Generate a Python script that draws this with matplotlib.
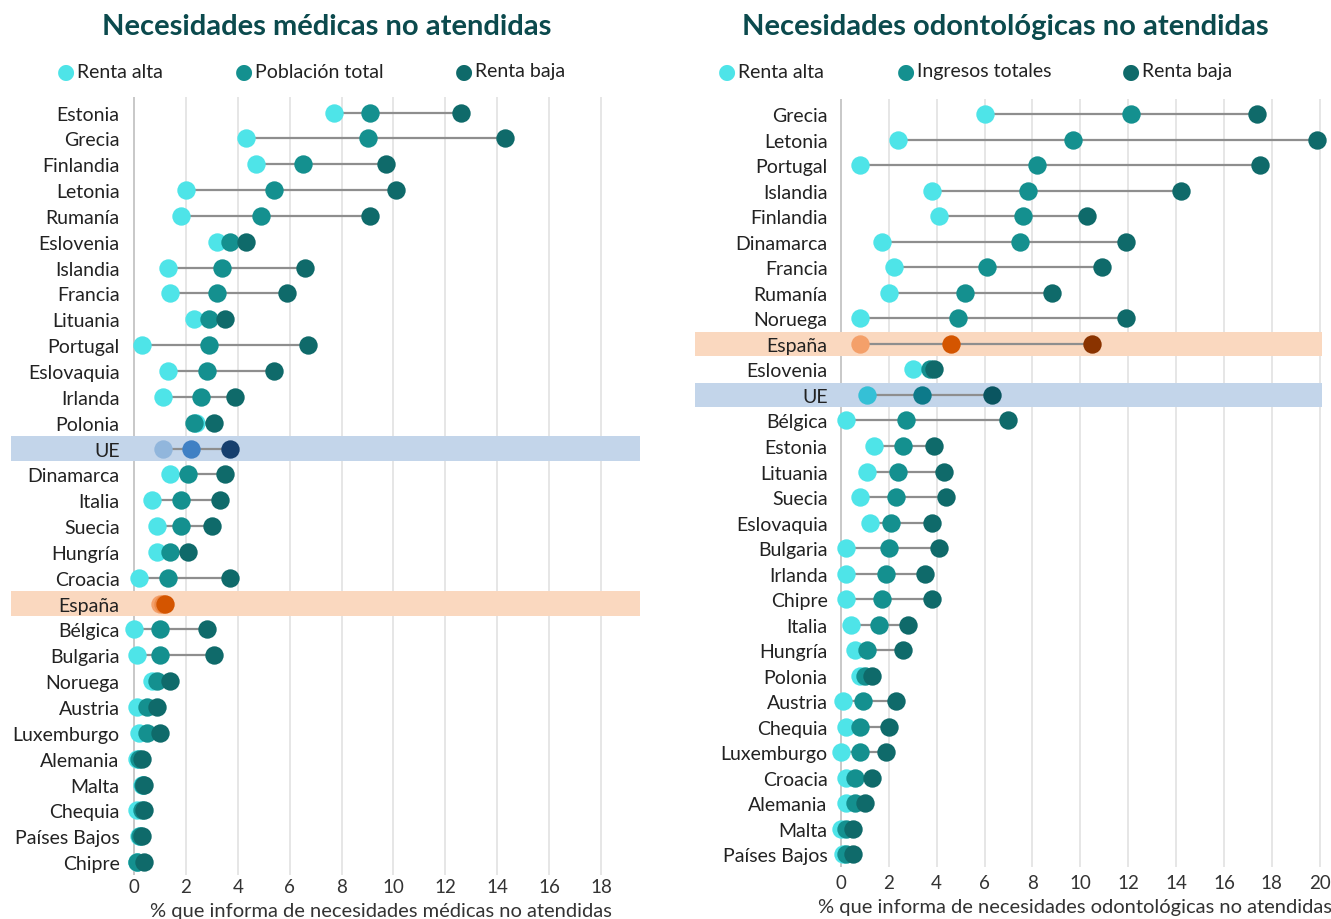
import numpy as np
import matplotlib.pyplot as plt
from matplotlib.transforms import blended_transform_factory

plt.rcParams['font.family'] = ['Lato', 'DejaVu Sans']

# Necesidades médicas no atendidas (%)
paises_med = ['Estonia', 'Grecia', 'Finlandia', 'Letonia', 'Rumanía', 'Eslovenia',
              'Islandia', 'Francia', 'Lituania', 'Portugal', 'Eslovaquia', 'Irlanda',
              'Polonia', 'UE', 'Dinamarca', 'Italia', 'Suecia', 'Hungría', 'Croacia',
              'España', 'Bélgica', 'Bulgaria', 'Noruega', 'Austria', 'Luxemburgo',
              'Alemania', 'Malta', 'Chequia', 'Países Bajos', 'Chipre']
med_alta = [7.7, 4.3, 4.7, 2.0, 1.8, 3.2, 1.3, 1.4, 2.3, 0.3, 1.3, 1.1, 2.4, 1.1,
            1.4, 0.7, 0.9, 0.9, 0.2, 1.0, 0.0, 0.1, 0.7, 0.1, 0.2, 0.1, 0.3, 0.1, 0.2, 0.1]
med_total = [9.1, 9.0, 6.5, 5.4, 4.9, 3.7, 3.4, 3.2, 2.9, 2.9, 2.8, 2.6, 2.3, 2.2,
             2.1, 1.8, 1.8, 1.4, 1.3, 1.1, 1.0, 1.0, 0.9, 0.5, 0.5, 0.2, 0.35, 0.3, 0.25, 0.1]
med_baja = [12.6, 14.3, 9.7, 10.1, 9.1, 4.3, 6.6, 5.9, 3.5, 6.7, 5.4, 3.9, 3.1, 3.7,
            3.5, 3.3, 3.0, 2.1, 3.7, 1.2, 2.8, 3.1, 1.4, 0.9, 1.0, 0.3, 0.4, 0.4, 0.3, 0.4]

# Necesidades odontológicas no atendidas (%)
paises_odo = ['Grecia', 'Letonia', 'Portugal', 'Islandia', 'Finlandia', 'Dinamarca',
              'Francia', 'Rumanía', 'Noruega', 'España', 'Eslovenia', 'UE', 'Bélgica',
              'Estonia', 'Lituania', 'Suecia', 'Eslovaquia', 'Bulgaria', 'Irlanda',
              'Chipre', 'Italia', 'Hungría', 'Polonia', 'Austria', 'Chequia',
              'Luxemburgo', 'Croacia', 'Alemania', 'Malta', 'Países Bajos']
odo_alta = [6.0, 2.4, 0.8, 3.8, 4.1, 1.7, 2.2, 2.0, 0.8, 0.8, 3.0, 1.1, 0.2, 1.4,
            1.1, 0.8, 1.2, 0.2, 0.2, 0.2, 0.4, 0.6, 0.8, 0.1, 0.2, 0.0, 0.2, 0.2, 0.0, 0.1]
odo_total = [12.1, 9.7, 8.2, 7.8, 7.6, 7.5, 6.1, 5.2, 4.9, 4.6, 3.7, 3.4, 2.7, 2.6,
             2.4, 2.3, 2.1, 2.0, 1.9, 1.7, 1.6, 1.1, 1.0, 0.9, 0.8, 0.8, 0.6, 0.6, 0.2, 0.2]
odo_baja = [17.4, 19.9, 17.5, 14.2, 10.3, 11.9, 10.9, 8.8, 11.9, 10.5, 3.9, 6.3, 7.0,
            3.9, 4.3, 4.4, 3.8, 4.1, 3.5, 3.8, 2.8, 2.6, 1.3, 2.3, 2.0, 1.9, 1.3, 1.0, 0.5, 0.5]

C_ALTA, C_TOTAL, C_BAJA = '#4ee4e8', '#14908f', '#0f6a6a'
TITLE_C = '#0b4a4d'

fig = plt.figure(figsize=(13.31, 9.2), dpi=100)


def panel(rect, band_x0, title_x, xpad, paises, alta, total, baja, xmax, ticks, titulo,
          xlabel, leg_labels, leg_x, ue_cols, es_cols):
    ax = fig.add_axes(rect)
    n = len(paises)
    y = np.arange(n)
    ax.set_xlim(-0.5, xmax)
    ax.set_ylim(n - 0.5, -0.6)
    for t in ticks:
        ax.axvline(t, color='#c8c8c8' if t == 0 else '#e6e6e6', lw=1.4, zorder=0)
    bt = blended_transform_factory(ax.transAxes, ax.transData)
    for i, p in enumerate(paises):
        cols = (C_ALTA, C_TOTAL, C_BAJA)
        if p in ('UE', 'España'):
            band = '#c3d5ea' if p == 'UE' else '#fad8bf'
            ax.add_patch(plt.Rectangle((band_x0, i - 0.48), 1 - band_x0, 0.96, transform=bt,
                                       color=band, clip_on=False, zorder=0.5, lw=0))
            cols = ue_cols if p == 'UE' else es_cols
        vals = [alta[i], total[i], baja[i]]
        ax.plot([min(vals), max(vals)], [i, i], color='#8e8e8e', lw=1.6, zorder=1)
        for v, c, z in zip(vals, cols, (2, 3, 4)):
            ax.scatter(v, i, s=175, color=c, zorder=z, lw=0, clip_on=False)
    ax.set_yticks(y)
    ax.set_yticklabels(paises, fontsize=14, color='#222222')
    ax.set_xticks(ticks)
    ax.set_xticklabels([str(t) for t in ticks], fontsize=13.5, color='#333333')
    ax.tick_params(length=0, pad=xpad)
    ax.tick_params(axis='y', pad=1)
    for s in ax.spines.values():
        s.set_visible(False)
    ax.set_xlabel(xlabel, fontsize=14.5, color='#333333', labelpad=5)
    # título y leyenda
    fig.text(title_x, 1 - 27 / 920, titulo, ha='center', va='center', fontsize=21,
             fontweight='bold', color=TITLE_C)
    for lx, lab, c in zip(leg_x, leg_labels, (C_ALTA, C_TOTAL, C_BAJA)):
        fig.text(lx / 1331, 1 - 72 / 920, '\u25cf', color=c, fontsize=15,
                 ha='center', va='center', family=['DejaVu Sans'])
        fig.text((lx + 11) / 1331, 1 - 72 / 920, lab, color='#222222', fontsize=14,
                 ha='left', va='center')
    return ax


panel([121 / 1331, 44 / 920, 519 / 1331, 778 / 920], -0.212, 327 / 1331, 2,
      paises_med, med_alta, med_total, med_baja, 19.5, list(range(0, 19, 2)),
      'Necesidades médicas no atendidas',
      '% que informa de necesidades médicas no atendidas',
      ['Renta alta', 'Población total', 'Renta baja'], [66, 244, 464],
      ('#91b6dc', '#3f80c4', '#163f6e'), ('#f4a06a', '#ec8a4a', '#d45500'))

panel([829 / 1331, 52 / 920, 493 / 1331, 768 / 920], -0.272, 1005 / 1331, 5,
      paises_odo, odo_alta, odo_total, odo_baja, 20.1, list(range(0, 21, 2)),
      'Necesidades odontológicas no atendidas',
      '% que informa de necesidades odontológicas no atendidas',
      ['Renta alta', 'Ingresos totales', 'Renta baja'], [727, 906, 1131],
      ('#35c0d6', '#0d7a8a', '#0a5560'), ('#f4a06a', '#d45500', '#8a3300'))

fig.savefig('out.png', dpi=100)
